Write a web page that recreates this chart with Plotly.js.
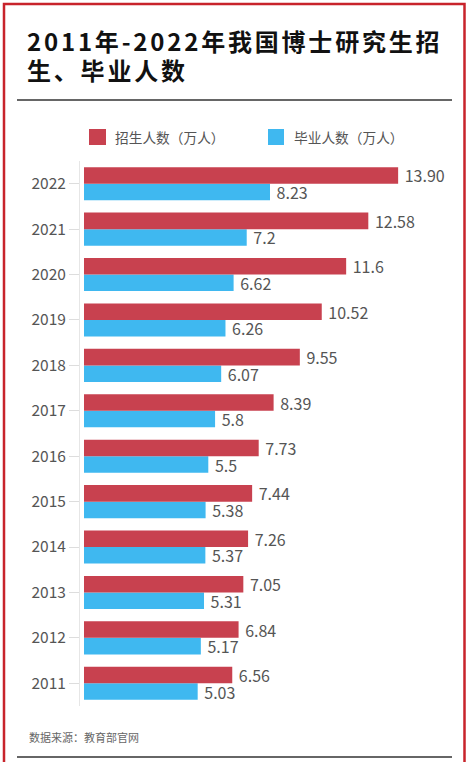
<!DOCTYPE html>
<html>
<head>
<meta charset="utf-8">
<script src="https://cdn.plot.ly/plotly-3.0.1.min.js"></script>
<style>
  html, body { margin: 0; padding: 0; background: #fff; }
  #chart { width: 470px; height: 762px; }
  .annotation-text.title-text { letter-spacing: 2.8px; }
</style>
</head>
<body>
<div id="chart"></div>
<script>
// 2011-2022 doctoral enrolment / graduates (万人)
var years = ["2011", "2012", "2013", "2014", "2015", "2016", "2017", "2018", "2019", "2020", "2021", "2022"];
var enrolled = ["6.56", "6.84", "7.05", "7.26", "7.44", "7.73", "8.39", "9.55", "10.52", "11.6", "12.58", "13.90"];
var graduated = ["5.03", "5.17", "5.31", "5.37", "5.38", "5.5", "5.8", "6.07", "6.26", "6.62", "7.2", "8.23"];
var seriesNames = ["招生人数（万人）", "毕业人数（万人）"];
var titleLines = ["2011年-2022年我国博士研究生招", "生、毕业人数"];
var colors = ["#C8414F", "#3FB8F0"];

var W = 470, H = 762;
var M = {l: 80, r: 20, t: 161, b: 56};
var plotW = W - M.l - M.r, plotH = H - M.t - M.b;
// pixel -> paper helpers
function px(x) { return (x - M.l) / plotW; }
function py(y) { return (H - M.b - y) / plotH; }

function barTrace(name, vals, color) {
  return {
    type: "bar",
    orientation: "h",
    name: name,
    y: years,
    x: vals.map(Number),
    text: vals,
    texttemplate: " %{text}",
    textposition: "outside",
    textfont: {size: 16, color: "#555"},
    constraintext: "none",
    cliponaxis: false,
    marker: {color: color},
    hoverinfo: "x+name"
  };
}

// blue first so the red bar sits on top within each group
var traceGrad = barTrace(seriesNames[1], graduated, colors[1]);
var traceEnr = barTrace(seriesNames[0], enrolled, colors[0]);

function titleLine(txt, yPix) {
  return {xref: "paper", yref: "paper", x: px(25), y: py(yPix), xanchor: "left", yanchor: "middle",
    align: "left", showarrow: false, text: "<b>" + txt + "</b>",
    font: {size: 24, color: "#111", family: "Noto Sans CJK SC, sans-serif"}};
}

var layout = {
  width: W,
  height: H,
  margin: M,
  paper_bgcolor: "#fff",
  plot_bgcolor: "#fff",
  font: {family: "Noto Sans CJK SC, Noto Sans, sans-serif", color: "#555"},
  showlegend: false,
  barmode: "group",
  bargap: 0.27,
  bargroupgap: 0,
  xaxis: {
    range: [-4 / 22.6, plotW / 22.6 - 4 / 22.6],
    showgrid: false,
    zeroline: false,
    showticklabels: false,
    showline: false,
    fixedrange: true
  },
  yaxis: {
    type: "category",
    showgrid: false,
    zeroline: false,
    showline: true,
    linecolor: "#e6e6e6",
    linewidth: 1,
    ticks: "outside",
    ticklen: 10,
    tickcolor: "#dddddd",
    tickfont: {size: 15.5, color: "#555"},
    fixedrange: true
  },
  shapes: [
    // outer red frame
    {type: "rect", xref: "paper", yref: "paper", x0: px(4), x1: px(464.5), y0: py(780), y1: py(4),
      line: {color: "#C8232B", width: 2.5}, fillcolor: "rgba(0,0,0,0)"},
    // rule under title
    {type: "line", xref: "paper", yref: "paper", x0: px(17), x1: px(452), y0: py(100), y1: py(100),
      line: {color: "#333", width: 1.5}},
    // rule at bottom
    {type: "line", xref: "paper", yref: "paper", x0: px(17), x1: px(452), y0: py(757), y1: py(757),
      line: {color: "#333", width: 1.5}},
    // legend swatches
    {type: "rect", xref: "paper", yref: "paper", x0: px(89), x1: px(106), y0: py(145), y1: py(129),
      line: {width: 0}, fillcolor: colors[0]},
    {type: "rect", xref: "paper", yref: "paper", x0: px(268), x1: px(284), y0: py(145), y1: py(129),
      line: {width: 0}, fillcolor: colors[1]}
  ],
  annotations: [
    titleLine(titleLines[0], 40),
    titleLine(titleLines[1], 70),
    {xref: "paper", yref: "paper", x: px(113), y: py(137), xanchor: "left", yanchor: "middle",
      showarrow: false, text: seriesNames[0], font: {size: 13.7, color: "#555"}},
    {xref: "paper", yref: "paper", x: px(292), y: py(137), xanchor: "left", yanchor: "middle",
      showarrow: false, text: seriesNames[1], font: {size: 13.7, color: "#555"}},
    {xref: "paper", yref: "paper", x: px(27), y: py(737), xanchor: "left", yanchor: "middle",
      showarrow: false, text: "数据来源：教育部官网", font: {size: 11, color: "#666"}}
  ]
};

Plotly.newPlot("chart", [traceGrad, traceEnr], layout, {displayModeBar: false, staticPlot: true}).then(function () {
  // wide tracking on the headline, like the original
  var t = document.querySelectorAll(".annotation-text");
  for (var i = 0; i < 2 && i < t.length; i++) t[i].classList.add("title-text");
});
</script>
</body>
</html>
